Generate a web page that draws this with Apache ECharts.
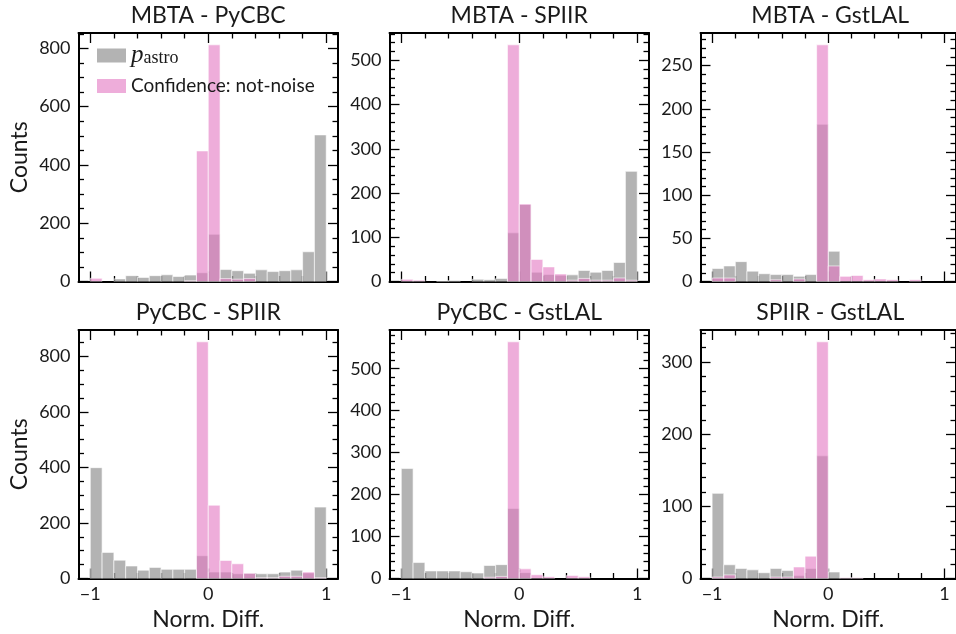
<!DOCTYPE html>
<html>
<head>
<meta charset="utf-8">
<script src="https://cdn.jsdelivr.net/npm/echarts@6/dist/echarts.min.js"></script>
<style>
  html, body { margin: 0; padding: 0; background: #fff; }
  #chart { width: 956px; height: 634px; }
</style>
</head>
<body>
<div id="chart"></div>
<script>
// Histogram bin edges (20 bins of width 0.1 on [-1, 1])
const binEdges = [-1.0, -0.9, -0.8, -0.7, -0.6, -0.5, -0.4, -0.3, -0.2, -0.1, 0.0,
                  0.1, 0.2, 0.3, 0.4, 0.5, 0.6, 0.7, 0.8, 0.9, 1.0];

// Tick positions and labels
const xMajorTicks = [-1, 0, 1];
const xMinorTicks = [-0.8, -0.6, -0.4, -0.2, 0.2, 0.4, 0.6, 0.8];
const yMajorTicks = [
  [0, 200, 400, 600, 800],
  [0, 100, 200, 300, 400, 500],
  [0, 50, 100, 150, 200, 250],
  [0, 200, 400, 600, 800],
  [0, 100, 200, 300, 400, 500],
  [0, 100, 200, 300]
];
const yMinorStep = [50, 20, 10, 50, 20, 20];

// Panel titles
const panelTitles = ['MBTA - PyCBC', 'MBTA - SPIIR', 'MBTA - GstLAL',
                     'PyCBC - SPIIR', 'PyCBC - GstLAL', 'SPIIR - GstLAL'];

// Series names
const pastroName = 'p_astro';
const confName = 'Confidence: not-noise';

// Counts per bin: p_astro normalised difference
const mbtaPycbcPastro   = [0, 0, 9, 20, 14, 20, 23, 17, 22, 30, 162, 41, 37, 28, 40, 34, 37, 40, 102, 503];
const mbtaSpiirPastro   = [0, 0, 0, 1, 2, 0, 5, 4, 7, 110, 174, 21, 16, 14, 15, 25, 21, 25, 43, 249];
const mbtaGstlalPastro  = [15, 18, 23, 12, 9, 8, 8, 6, 8, 182, 35, 0, 0, 0, 0, 0, 0, 0, 0, 0];
const pycbcSpiirPastro  = [399, 94, 66, 45, 30, 40, 33, 33, 33, 82, 23, 23, 17, 19, 17, 17, 23, 30, 20, 257];
const pycbcGstlalPastro = [262, 38, 18, 18, 18, 16, 13, 31, 33, 167, 14, 0, 0, 0, 0, 0, 0, 0, 0, 0];
const spiirGstlalPastro = [118, 19, 14, 12, 8, 14, 11, 4, 14, 170, 9, 0, 0, 0, 0, 0, 0, 0, 0, 0];

// Counts per bin: not-noise confidence normalised difference
const mbtaPycbcConf   = [11, 0, 0, 0, 0, 0, 0, 0, 3, 448, 812, 10, 8, 10, 0, 0, 0, 0, 0, 0];
const mbtaSpiirConf   = [5, 3, 0, 0, 0, 0, 0, 0, 0, 535, 175, 50, 33, 17, 3, 7, 3, 3, 8, 3];
const mbtaGstlalConf  = [4, 4, 0, 0, 0, 2, 0, 3, 0, 274, 18, 6, 7, 2, 3, 2, 0, 2, 0, 0];
const pycbcSpiirConf  = [0, 0, 0, 0, 0, 0, 0, 0, 0, 852, 264, 65, 53, 19, 3, 3, 8, 8, 23, 3];
const pycbcGstlalConf = [0, 0, 0, 0, 0, 0, 0, 3, 5, 564, 23, 9, 4, 0, 7, 4, 0, 0, 0, 0];
const spiirGstlalConf = [2, 5, 0, 0, 0, 2, 2, 16, 31, 328, 0, 1, 1, 0, 0, 0, 0, 0, 0, 0];

const pastroSets = [mbtaPycbcPastro, mbtaSpiirPastro, mbtaGstlalPastro,
                    pycbcSpiirPastro, pycbcGstlalPastro, spiirGstlalPastro];
const confSets = [mbtaPycbcConf, mbtaSpiirConf, mbtaGstlalConf,
                  pycbcSpiirConf, pycbcGstlalConf, spiirGstlalConf];

// ---- layout & style ----
const FONT = "Lato, 'Noto Sans', sans-serif";
const TEXT = '#1a1a1a';
const GREY = 'rgba(128,128,128,0.6)';
const PINK = 'rgba(227,119,194,0.6)';
const colLeft = [78.5, 389.5, 700.5];
const rowTop = [33, 330];
const panelW = 259.5;
const panelH = 248.5;
const XMIN = -1.1, XMAX = 1.1;

const fmtNum = v => (v < 0 ? '\u2212' + Math.abs(v) : String(v));

const grids = [], xAxes = [], yAxes = [], series = [], graphics = [];

function xAxis(gi, pos, ticks, len, line, labels, name) {
  return {
    type: 'value', gridIndex: gi, position: pos, min: XMIN, max: XMAX,
    axisLine: { show: line, onZero: false, lineStyle: { color: '#000', width: 2 } },
    axisTick: { show: true, inside: true, length: len, customValues: ticks,
                lineStyle: { color: '#000', width: 1.3 } },
    axisLabel: labels ? { show: true, customValues: labels, formatter: fmtNum, margin: 7,
                          color: TEXT, fontFamily: FONT, fontSize: 18 } : { show: false },
    splitLine: { show: false },
    name: name || '', nameLocation: 'middle', nameGap: 30,
    nameTextStyle: { color: TEXT, fontFamily: FONT, fontSize: 23 }
  };
}

function yAxis(gi, pos, ymax, ticks, len, line, labels, name) {
  return {
    type: 'value', gridIndex: gi, position: pos, min: 0, max: ymax,
    axisLine: { show: line, onZero: false, lineStyle: { color: '#000', width: 2 } },
    axisTick: { show: true, inside: true, length: len, customValues: ticks,
                lineStyle: { color: '#000', width: 1.3 } },
    axisLabel: labels ? { show: true, customValues: labels, formatter: fmtNum, margin: 8,
                          color: TEXT, fontFamily: FONT, fontSize: 18 } : { show: false },
    splitLine: { show: false },
    name: name || '', nameLocation: 'middle', nameGap: 47,
    nameTextStyle: { color: TEXT, fontFamily: FONT, fontSize: 23 }
  };
}

function histData(counts) {
  const out = [];
  for (let i = 0; i < counts.length; i++) out.push([binEdges[i], binEdges[i + 1], counts[i]]);
  return out;
}

function renderBar(params, api) {
  const h = api.value(2);
  if (!h) return null;
  const p0 = api.coord([api.value(0), h]);
  const p1 = api.coord([api.value(1), 0]);
  return {
    type: 'rect',
    shape: { x: p0[0], y: p0[1], width: p1[0] - p0[0], height: p1[1] - p0[1] },
    style: { fill: api.visual('color'), stroke: 'rgba(255,255,255,0.6)', lineWidth: 1 }
  };
}

for (let gi = 0; gi < 6; gi++) {
  const col = gi % 3, row = Math.floor(gi / 3);
  const left = colLeft[col], top = rowTop[row];
  grids.push({ left: left, top: top, width: panelW, height: panelH, containLabel: false });

  const ymax = 1.05 * Math.max(...pastroSets[gi], ...confSets[gi]);
  const majors = yMajorTicks[gi];
  const minors = [];
  for (let v = 0; v <= ymax; v += yMinorStep[gi]) if (majors.indexOf(v) < 0) minors.push(v);

  const bottomRow = row === 1, leftCol = col === 0;
  // x: bottom major, bottom minor, top major, top minor
  xAxes.push(xAxis(gi, 'bottom', xMajorTicks, 10, true, bottomRow ? xMajorTicks : null,
                   bottomRow ? 'Norm. Diff.' : ''));
  xAxes.push(xAxis(gi, 'bottom', xMinorTicks, 5.5, false, null));
  xAxes.push(xAxis(gi, 'top', xMajorTicks, 10, true, null));
  xAxes.push(xAxis(gi, 'top', xMinorTicks, 5.5, false, null));
  // y: left major, left minor, right major, right minor
  yAxes.push(yAxis(gi, 'left', ymax, majors, 10, true, majors, leftCol ? 'Counts' : ''));
  yAxes.push(yAxis(gi, 'left', ymax, minors, 5.5, false, null));
  yAxes.push(yAxis(gi, 'right', ymax, majors, 10, true, null));
  yAxes.push(yAxis(gi, 'right', ymax, minors, 5.5, false, null));

  series.push({
    type: 'custom', name: pastroName, xAxisIndex: gi * 4, yAxisIndex: gi * 4,
    itemStyle: { color: GREY }, renderItem: renderBar, clip: true,
    encode: { x: [0, 1], y: 2 }, data: histData(pastroSets[gi]), z: 2
  });
  series.push({
    type: 'custom', name: confName, xAxisIndex: gi * 4, yAxisIndex: gi * 4,
    itemStyle: { color: PINK }, renderItem: renderBar, clip: true,
    encode: { x: [0, 1], y: 2 }, data: histData(confSets[gi]), z: 3
  });

  graphics.push({
    type: 'text', x: left + panelW / 2, y: top - 17,
    style: { text: panelTitles[gi], fill: TEXT, font: '23px ' + FONT,
             textAlign: 'center', textVerticalAlign: 'middle' }
  });
}

const chart = echarts.init(document.getElementById('chart'), null, { renderer: 'canvas' });
chart.setOption({
  animation: false,
  backgroundColor: '#fff',
  grid: grids,
  xAxis: xAxes,
  yAxis: yAxes,
  series: series,
  graphic: graphics,
  legend: {
    orient: 'vertical', left: 92, top: 38, itemWidth: 29, itemHeight: 14, itemGap: 6,
    data: [{ name: pastroName, icon: 'rect' }, { name: confName, icon: 'rect' }],
    selectedMode: false,
    itemStyle: { borderWidth: 0 },
    formatter: n => (n === pastroName ? '{p|p}{s|astro}' : n),
    textStyle: {
      color: TEXT, fontFamily: FONT, fontSize: 19, lineHeight: 24, padding: [0, 0, 0, 0],
      rich: {
        p: { fontFamily: "'Liberation Serif', serif", fontStyle: 'italic', fontSize: 25,
             color: TEXT, lineHeight: 24, verticalAlign: 'middle' },
        s: { fontFamily: "'Liberation Serif', serif", fontSize: 18, color: TEXT,
             lineHeight: 12, verticalAlign: 'bottom' }
      }
    }
  }
});
</script>
</body>
</html>
